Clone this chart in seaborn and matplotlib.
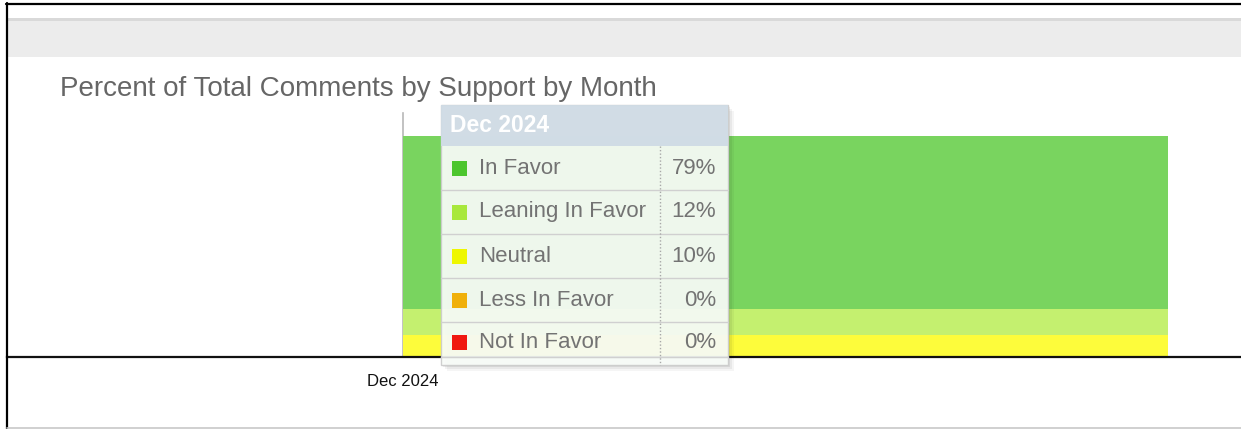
import numpy as np
import pandas as pd
import matplotlib
matplotlib.use("Agg")
import matplotlib.pyplot as plt
import seaborn as sns
from matplotlib.patches import Rectangle
from matplotlib.lines import Line2D

# === dati =================================================================
months = ["Dec 2024"]
categories = ["In Favor", "Leaning In Favor", "Neutral", "Less In Favor", "Not In Favor"]
percents = [79, 12, 10, 0, 0]
bar_colors = ["#79d45f", "#c4f06f", "#fdfc3b", "#f5c45a", "#f56a5a"]
swatch_colors = ["#4cc62e", "#a8e83c", "#eef700", "#f0b00a", "#f01810"]
title = "Percent of Total Comments by Support by Month"

W, H = 1241, 429
sns.set_theme(style="white")
plt.rcParams["font.family"] = ["Liberation Sans", "DejaVu Sans"]

fig = plt.figure(figsize=(W / 100, H / 100), dpi=100)


def fx(x):
    return x / W


def fy(y):
    return 1 - y / H


# === grafico ==============================================================
ax = fig.add_axes([fx(7), fy(357), 1 - fx(7), fy(113) - fy(357)])

# stacked bar: cumulative heights, largest drawn first
df = pd.DataFrame({"category": categories, "pct": percents, "color": bar_colors})
df = df.iloc[::-1].reset_index(drop=True)          # bottom -> top
df["cum"] = df["pct"].cumsum()
total = df["cum"].iloc[-1]
for _, row in df.iloc[::-1].iterrows():
    if row["pct"] == 0:
        continue
    sns.barplot(x=months, y=[row["cum"]], color=row["color"], width=1,
                saturation=1, linewidth=0, ax=ax)

ax.set_ylim(0, total * 244 / 221)
ax.set_xlim(-0.5 - 396 / 765, 0.5 + 73 / 765)
ax.set_xticks([-0.5])
ax.set_xticklabels(months, fontsize=12, color="#111111")
ax.tick_params(axis="x", length=0, pad=12)
ax.set_yticks([])
ax.set_xlabel("")
ax.set_ylabel("")
for s in ["top", "right"]:
    ax.spines[s].set_visible(False)
ax.spines["bottom"].set_color("#111111")
ax.spines["bottom"].set_linewidth(1.6)
ax.spines["left"].set_position(("data", -0.5))
ax.spines["left"].set_color("#b8b8b8")
ax.spines["left"].set_linewidth(1.2)
ax.spines["left"].set_zorder(0.5)

# === cornice della pagina ================================================
fig.add_artist(Rectangle((fx(7), fy(57)), 1, fy(18) - fy(57), transform=fig.transFigure,
                         facecolor="#ececec", edgecolor="none", zorder=0))
fig.add_artist(Rectangle((fx(7), fy(21)), 1, fy(18) - fy(21), transform=fig.transFigure,
                         facecolor="#d9d9d9", edgecolor="none", zorder=0))
fig.add_artist(Line2D([fx(6), 1], [fy(3.5), fy(3.5)], transform=fig.transFigure,
                      color="black", lw=1.6))
fig.add_artist(Line2D([fx(7), fx(7)], [fy(3), 0], transform=fig.transFigure,
                      color="black", lw=1.6))
fig.add_artist(Line2D([fx(7), 1], [fy(427.5), fy(427.5)], transform=fig.transFigure,
                      color="#c8c8c8", lw=1.2))

fig.text(fx(60), fy(89), title, fontsize=20, color="#666666", va="center", ha="left")

# === tooltip =============================================================
tx0, tx1, ty0, ty1 = 441, 728, 105, 365
for off, a in [(6, 0.04), (4, 0.05), (2, 0.07)]:
    fig.add_artist(Rectangle((fx(tx0 + off), fy(ty1 + off)), fx(tx1 - tx0), fy(ty0) - fy(ty1),
                             transform=fig.transFigure, facecolor="#000000", alpha=a,
                             edgecolor="none", zorder=3))
fig.add_artist(Rectangle((fx(tx0), fy(ty1)), fx(tx1 - tx0), fy(ty0) - fy(ty1),
                         transform=fig.transFigure, facecolor="#f9fdf9", alpha=0.93,
                         edgecolor="#cccccc", lw=1, zorder=4))
fig.add_artist(Rectangle((fx(tx0), fy(146)), fx(tx1 - tx0), fy(ty0) - fy(146),
                         transform=fig.transFigure, facecolor="#cfdbe5", alpha=0.95,
                         edgecolor="none", zorder=5))
fig.text(fx(450), fy(126), months[0], fontsize=16.5, fontweight="bold", color="white",
         va="center", ha="left", zorder=6)

row_tops = [146, 190, 234, 278, 322]
row_h = 44
for i, (cat, val, sc) in enumerate(zip(categories, percents, swatch_colors)):
    top = row_tops[i]
    cy = top + 22 if i < 4 else top + 20
    fig.add_artist(Rectangle((fx(452), fy(cy + 8)), fx(15), fy(cy - 7) - fy(cy + 8),
                             transform=fig.transFigure, facecolor=sc, edgecolor="none", zorder=6))
    fig.text(fx(479), fy(cy), cat, fontsize=16, color="#737373", va="center", ha="left", zorder=6)
    fig.text(fx(716), fy(cy), f"{val}%", fontsize=16, color="#737373", va="center", ha="right", zorder=6)
    sep = top + row_h if i < 4 else 357
    fig.add_artist(Line2D([fx(tx0), fx(tx1)], [fy(sep), fy(sep)], transform=fig.transFigure,
                          color="#d0d0d0", lw=1, zorder=6))
fig.add_artist(Line2D([fx(660), fx(660)], [fy(146), fy(ty1)], transform=fig.transFigure,
                      color="#a8a8a8", lw=1, ls=(0, (1, 1.5)), zorder=6))

plt.savefig("out.png", dpi=100)
